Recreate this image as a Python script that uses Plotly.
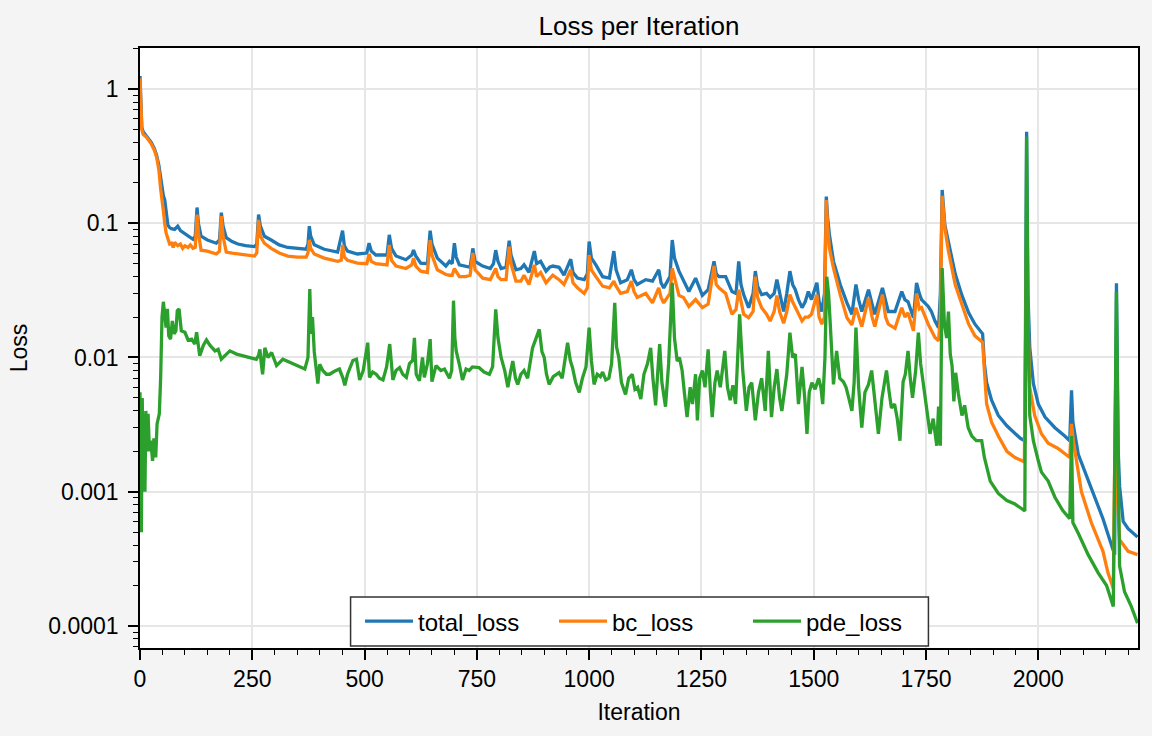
import plotly.graph_objects as go

# ---------------- data ----------------
total_loss_pts = [
    (0, 1.25), (2, 0.80), (4, 0.52), (7, 0.48), (14, 0.45), (25, 0.40), (32, 0.36), (37, 0.32),
    (42, 0.27), (46, 0.21), (49, 0.178), (52, 0.16), (55, 0.15), (58, 0.12), (62, 0.097), (66, 0.093),
    (70, 0.091), (77, 0.090), (84, 0.095), (90, 0.088), (100, 0.083), (107, 0.080), (118, 0.076),
    (123, 0.080), (127, 0.131), (130, 0.100), (136, 0.080), (150, 0.075), (170, 0.071), (177, 0.075),
    (181, 0.120), (185, 0.095), (192, 0.078), (205, 0.073), (218, 0.070), (235, 0.068), (255, 0.067),
    (260, 0.070), (264, 0.116), (268, 0.095), (277, 0.080), (292, 0.075), (310, 0.069), (329, 0.066),
    (350, 0.065), (370, 0.064), (374, 0.070), (377, 0.095), (380, 0.080), (388, 0.069), (410, 0.064),
    (440, 0.061), (451, 0.088), (455, 0.068), (462, 0.062), (484, 0.059), (505, 0.060), (510, 0.071),
    (515, 0.062), (525, 0.058), (550, 0.058), (555, 0.082), (560, 0.065), (570, 0.057), (592, 0.0535),
    (605, 0.058), (609, 0.063), (614, 0.057), (625, 0.0505), (640, 0.050), (646, 0.088), (650, 0.070),
    (662, 0.055), (681, 0.048), (689, 0.052), (695, 0.050), (700, 0.071), (704, 0.056), (711, 0.049),
    (725, 0.048), (735, 0.047), (741, 0.065), (746, 0.052), (763, 0.048), (780, 0.046), (787, 0.050),
    (792, 0.063), (797, 0.052), (804, 0.046), (815, 0.047), (822, 0.074), (826, 0.058), (837, 0.045),
    (848, 0.046), (855, 0.049), (866, 0.043), (878, 0.062), (883, 0.050), (892, 0.052), (904, 0.044),
    (912, 0.047), (919, 0.048), (933, 0.047), (944, 0.041), (959, 0.054), (964, 0.043), (974, 0.039),
    (989, 0.038), (996, 0.042), (1000, 0.073), (1005, 0.055), (1015, 0.049), (1030, 0.040), (1045, 0.039),
    (1055, 0.062), (1060, 0.045), (1070, 0.036), (1085, 0.038), (1094, 0.045), (1100, 0.038),
    (1107, 0.035), (1126, 0.038), (1141, 0.037), (1155, 0.045), (1160, 0.036), (1166, 0.033),
    (1180, 0.040), (1185, 0.075), (1190, 0.055), (1200, 0.044), (1210, 0.038), (1222, 0.031),
    (1237, 0.039), (1245, 0.033), (1252, 0.029), (1265, 0.032), (1278, 0.052), (1283, 0.042),
    (1289, 0.040), (1304, 0.040), (1318, 0.031), (1327, 0.030), (1333, 0.052), (1338, 0.035),
    (1344, 0.0294), (1355, 0.0235), (1365, 0.030), (1370, 0.044), (1375, 0.034), (1384, 0.0294),
    (1395, 0.030), (1403, 0.028), (1412, 0.030), (1418, 0.038), (1424, 0.030), (1433, 0.022),
    (1440, 0.030), (1447, 0.044), (1453, 0.035), (1459, 0.032), (1466, 0.027), (1474, 0.0235),
    (1481, 0.026), (1488, 0.031), (1495, 0.027), (1507, 0.036), (1512, 0.026), (1518, 0.022),
    (1524, 0.030), (1528, 0.158), (1531, 0.110), (1535, 0.082), (1544, 0.052), (1559, 0.035),
    (1574, 0.0255), (1585, 0.021), (1594, 0.035), (1600, 0.027), (1607, 0.022), (1622, 0.032),
    (1630, 0.025), (1636, 0.021), (1653, 0.033), (1660, 0.026), (1666, 0.022), (1681, 0.022),
    (1696, 0.031), (1703, 0.027), (1710, 0.026), (1722, 0.0198), (1729, 0.036), (1735, 0.030),
    (1740, 0.027), (1755, 0.024), (1762, 0.022), (1770, 0.0187), (1778, 0.0167), (1782, 0.030),
    (1786, 0.177), (1792, 0.097), (1800, 0.073), (1815, 0.042), (1830, 0.029), (1845, 0.0215),
    (1859, 0.0177), (1872, 0.0155), (1876, 0.015), (1880, 0.009), (1885, 0.0065), (1896, 0.0048),
    (1911, 0.0037), (1930, 0.0031), (1948, 0.0027), (1960, 0.0025), (1970, 0.0024), (1974, 0.48),
    (1977, 0.030), (1981, 0.0119), (1989, 0.0064), (2000, 0.0045), (2015, 0.0036), (2037, 0.0030),
    (2059, 0.0026), (2070, 0.0024), (2074, 0.0057), (2077, 0.0033), (2089, 0.0019), (2104, 0.0014),
    (2126, 0.00091), (2144, 0.00063), (2159, 0.00044), (2170, 0.00034), (2174, 0.0357), (2178, 0.0020),
    (2181, 0.0011), (2189, 0.00060), (2200, 0.00053), (2221, 0.00046),
]

bc_loss_pts = [
    (0, 1.20), (2, 0.78), (4, 0.50), (7, 0.46), (14, 0.44), (25, 0.39), (32, 0.35), (37, 0.31),
    (42, 0.25), (46, 0.18), (49, 0.14), (52, 0.124), (55, 0.10), (58, 0.085), (62, 0.077), (66, 0.070),
    (70, 0.071), (74, 0.066), (77, 0.072), (84, 0.068), (90, 0.070), (95, 0.065), (100, 0.068),
    (107, 0.066), (112, 0.069), (118, 0.065), (123, 0.066), (127, 0.116), (130, 0.085), (136, 0.063),
    (150, 0.062), (170, 0.059), (177, 0.062), (181, 0.113), (185, 0.080), (192, 0.061), (205, 0.060),
    (218, 0.059), (235, 0.058), (255, 0.057), (260, 0.060), (264, 0.106), (268, 0.080), (277, 0.071),
    (292, 0.065), (310, 0.060), (329, 0.057), (350, 0.056), (370, 0.056), (374, 0.060), (377, 0.075),
    (380, 0.065), (388, 0.059), (410, 0.055), (440, 0.052), (448, 0.053), (451, 0.069), (455, 0.056),
    (462, 0.053), (484, 0.0505), (505, 0.050), (510, 0.059), (515, 0.052), (525, 0.050), (550, 0.049),
    (555, 0.069), (560, 0.053), (570, 0.048), (592, 0.046), (605, 0.049), (609, 0.055), (614, 0.048),
    (625, 0.044), (640, 0.043), (646, 0.075), (650, 0.058), (662, 0.045), (681, 0.0415), (689, 0.041),
    (695, 0.041), (700, 0.046), (711, 0.040), (725, 0.040), (735, 0.041), (741, 0.060), (746, 0.045),
    (763, 0.039), (780, 0.038), (792, 0.046), (797, 0.040), (804, 0.038), (815, 0.038), (822, 0.067),
    (826, 0.050), (837, 0.037), (848, 0.037), (855, 0.041), (866, 0.035), (878, 0.049), (883, 0.040),
    (892, 0.043), (904, 0.036), (919, 0.041), (933, 0.038), (944, 0.035), (959, 0.045), (964, 0.036),
    (974, 0.033), (989, 0.030), (996, 0.033), (1000, 0.058), (1005, 0.045), (1015, 0.040), (1030, 0.034),
    (1045, 0.033), (1055, 0.037), (1060, 0.034), (1070, 0.030), (1085, 0.031), (1094, 0.037),
    (1100, 0.031), (1107, 0.028), (1126, 0.030), (1141, 0.0255), (1155, 0.033), (1160, 0.028),
    (1166, 0.0255), (1180, 0.030), (1185, 0.046), (1190, 0.040), (1200, 0.029), (1210, 0.028),
    (1222, 0.024), (1237, 0.027), (1245, 0.025), (1252, 0.0235), (1265, 0.025), (1278, 0.048),
    (1283, 0.035), (1289, 0.033), (1304, 0.030), (1318, 0.021), (1327, 0.0228), (1333, 0.032),
    (1344, 0.021), (1355, 0.0198), (1365, 0.022), (1370, 0.040), (1375, 0.028), (1384, 0.0235),
    (1395, 0.021), (1403, 0.0187), (1412, 0.022), (1418, 0.029), (1424, 0.022), (1433, 0.018),
    (1440, 0.022), (1447, 0.0294), (1453, 0.026), (1459, 0.0235), (1466, 0.021), (1474, 0.0187),
    (1481, 0.020), (1488, 0.020), (1495, 0.021), (1507, 0.0294), (1512, 0.020), (1518, 0.0177),
    (1524, 0.020), (1528, 0.149), (1531, 0.095), (1535, 0.065), (1544, 0.0464), (1559, 0.0294),
    (1574, 0.0198), (1585, 0.0175), (1594, 0.0235), (1600, 0.020), (1607, 0.017), (1622, 0.0278),
    (1630, 0.020), (1636, 0.017), (1653, 0.0294), (1660, 0.020), (1666, 0.0177), (1681, 0.0165),
    (1696, 0.0235), (1703, 0.020), (1710, 0.0215), (1722, 0.0158), (1729, 0.030), (1735, 0.023),
    (1740, 0.0235), (1755, 0.0177), (1762, 0.016), (1770, 0.0141), (1778, 0.0133), (1782, 0.020),
    (1786, 0.160), (1792, 0.092), (1800, 0.062), (1815, 0.035), (1830, 0.0248), (1845, 0.0177),
    (1859, 0.0145), (1872, 0.0134), (1876, 0.013), (1880, 0.008), (1885, 0.0045), (1896, 0.0033),
    (1911, 0.0026), (1930, 0.0020), (1948, 0.0018), (1969, 0.00167), (1974, 0.070), (1977, 0.020),
    (1981, 0.006), (1992, 0.0037), (2007, 0.0027), (2022, 0.0023), (2044, 0.0021), (2070, 0.0018),
    (2074, 0.0032), (2078, 0.0024), (2096, 0.0010), (2118, 0.00059), (2144, 0.00036), (2155, 0.00025),
    (2167, 0.00019), (2172, 0.0057), (2176, 0.00095), (2181, 0.00044), (2200, 0.00036), (2221, 0.00034),
]

pde_loss_pts = [
    (0, 0.0055), (2, 0.0008), (3, 0.0005), (5, 0.0050), (7, 0.0012), (9, 0.0038), (11, 0.0010),
    (13, 0.0040), (15, 0.0020), (18, 0.0038), (21, 0.0020), (24, 0.0024), (28, 0.0017), (31, 0.0025),
    (35, 0.0018), (38, 0.0032), (43, 0.0038), (46, 0.0071), (49, 0.020), (52, 0.026), (55, 0.019),
    (58, 0.0167), (61, 0.023), (64, 0.0145), (68, 0.0137), (72, 0.0187), (76, 0.0150), (80, 0.0158),
    (83, 0.0223), (87, 0.023), (92, 0.0158), (100, 0.0154), (107, 0.0135), (115, 0.0137), (122, 0.0126),
    (126, 0.0154), (133, 0.0103), (141, 0.0123), (148, 0.0135), (156, 0.0123), (167, 0.0112),
    (174, 0.0115), (181, 0.0097), (189, 0.0103), (200, 0.0112), (215, 0.0106), (230, 0.0103),
    (244, 0.0100), (259, 0.0097), (264, 0.0104), (267, 0.0115), (270, 0.0090), (273, 0.0075),
    (278, 0.0118), (285, 0.0100), (293, 0.0109), (304, 0.0087), (318, 0.0097), (333, 0.0092),
    (348, 0.0087), (367, 0.0082), (374, 0.0100), (378, 0.0324), (381, 0.0150), (384, 0.020),
    (388, 0.0110), (392, 0.0085), (396, 0.0064), (400, 0.0089), (407, 0.0080), (415, 0.0075),
    (422, 0.0075), (433, 0.0079), (444, 0.0082), (452, 0.0070), (456, 0.0062), (462, 0.0075),
    (467, 0.0082), (474, 0.0095), (482, 0.0097), (489, 0.0068), (497, 0.0080), (507, 0.0129),
    (511, 0.0071), (518, 0.0078), (526, 0.0075), (533, 0.0070), (541, 0.0068), (549, 0.0085),
    (556, 0.0126), (563, 0.0068), (570, 0.0080), (578, 0.0084), (585, 0.0075), (593, 0.0071),
    (600, 0.0090), (607, 0.0095), (611, 0.0140), (615, 0.0075), (622, 0.0067), (629, 0.0100),
    (633, 0.0071), (640, 0.0090), (646, 0.0137), (650, 0.0066), (659, 0.0087), (670, 0.0080),
    (678, 0.0082), (689, 0.0070), (694, 0.0080), (698, 0.0265), (701, 0.0140), (704, 0.0112),
    (711, 0.0089), (718, 0.0068), (726, 0.0082), (733, 0.0080), (740, 0.0085), (755, 0.0084),
    (766, 0.0078), (778, 0.0075), (785, 0.0085), (792, 0.0228), (797, 0.0140), (804, 0.0100),
    (812, 0.0080), (819, 0.0060), (825, 0.0078), (830, 0.0094), (836, 0.0070), (841, 0.0063),
    (848, 0.0075), (855, 0.0080), (863, 0.0070), (870, 0.0100), (874, 0.0118), (889, 0.0162),
    (895, 0.0110), (900, 0.0100), (905, 0.0075), (911, 0.0063), (920, 0.0072), (933, 0.0077),
    (940, 0.0070), (946, 0.0095), (952, 0.0129), (958, 0.0095), (963, 0.0084), (970, 0.0065),
    (978, 0.0055), (985, 0.0070), (993, 0.0085), (1000, 0.0167), (1005, 0.0095), (1011, 0.0063),
    (1018, 0.0075), (1025, 0.0072), (1030, 0.0078), (1037, 0.0068), (1044, 0.0070), (1050, 0.0090),
    (1057, 0.0255), (1061, 0.0120), (1066, 0.0100), (1072, 0.0065), (1081, 0.0053), (1088, 0.0070),
    (1096, 0.0075), (1102, 0.0058), (1108, 0.0060), (1115, 0.0049), (1122, 0.0075), (1130, 0.0090),
    (1137, 0.0118), (1142, 0.0070), (1148, 0.0044), (1153, 0.0080), (1157, 0.0126), (1162, 0.0065),
    (1170, 0.0043), (1177, 0.0090), (1185, 0.036), (1190, 0.0140), (1196, 0.0094), (1201, 0.0100),
    (1207, 0.0080), (1212, 0.0055), (1218, 0.0036), (1225, 0.0060), (1230, 0.0045), (1237, 0.0075),
    (1241, 0.0034), (1246, 0.0070), (1252, 0.0080), (1258, 0.0060), (1265, 0.0115), (1270, 0.0055),
    (1274, 0.0036), (1280, 0.0065), (1285, 0.0080), (1292, 0.0060), (1302, 0.0112), (1308, 0.0060),
    (1314, 0.0048), (1320, 0.0062), (1326, 0.0045), (1335, 0.021), (1342, 0.0080), (1350, 0.0040),
    (1356, 0.0060), (1362, 0.0065), (1370, 0.0034), (1377, 0.0055), (1384, 0.0070), (1392, 0.0040),
    (1399, 0.0112), (1406, 0.0036), (1412, 0.0060), (1418, 0.0082), (1424, 0.0050), (1429, 0.0040),
    (1436, 0.0060), (1440, 0.0075), (1447, 0.0153), (1453, 0.0100), (1459, 0.0106), (1466, 0.0045),
    (1474, 0.0085), (1480, 0.0050), (1485, 0.0027), (1490, 0.0055), (1496, 0.0065), (1503, 0.0058),
    (1511, 0.0070), (1516, 0.0060), (1520, 0.0045), (1525, 0.0100), (1529, 0.040), (1533, 0.030),
    (1536, 0.020), (1540, 0.0110), (1544, 0.0063), (1551, 0.0112), (1558, 0.0070), (1566, 0.0066),
    (1572, 0.0060), (1578, 0.0050), (1585, 0.0040), (1590, 0.0065), (1594, 0.0167), (1600, 0.0060),
    (1607, 0.0030), (1614, 0.0055), (1622, 0.0063), (1629, 0.0080), (1636, 0.0050), (1644, 0.0027),
    (1652, 0.0050), (1662, 0.0080), (1668, 0.0055), (1673, 0.0042), (1680, 0.0045), (1686, 0.0035),
    (1692, 0.0024), (1699, 0.0066), (1704, 0.0075), (1710, 0.0112), (1715, 0.0070), (1720, 0.0050),
    (1727, 0.0080), (1733, 0.0153), (1738, 0.0090), (1744, 0.0063), (1750, 0.0045), (1759, 0.0027),
    (1766, 0.0035), (1774, 0.0022), (1778, 0.0043), (1782, 0.0022), (1786, 0.0464), (1791, 0.0176),
    (1796, 0.0140), (1800, 0.022), (1804, 0.0106), (1808, 0.0087), (1812, 0.0047), (1816, 0.0077),
    (1822, 0.0054), (1830, 0.0037), (1836, 0.0044), (1844, 0.0030), (1852, 0.0026), (1862, 0.0024),
    (1874, 0.0024), (1880, 0.0018), (1893, 0.0012), (1911, 0.00097), (1930, 0.00086), (1948, 0.00081),
    (1960, 0.00076), (1970, 0.00072), (1974, 0.44), (1977, 0.020), (1981, 0.0037), (1989, 0.0024),
    (2000, 0.0017), (2007, 0.0014), (2022, 0.0012), (2037, 0.00091), (2055, 0.00072), (2070, 0.00063),
    (2074, 0.0026), (2077, 0.00059), (2089, 0.00049), (2111, 0.00034), (2133, 0.00025), (2152, 0.00020),
    (2167, 0.00014), (2174, 0.0307), (2178, 0.0015), (2181, 0.00028), (2192, 0.00018), (2207, 0.00014),
    (2221, 0.000105),
]

series_names = ["total_loss", "bc_loss", "pde_loss"]
series_points = [total_loss_pts, bc_loss_pts, pde_loss_pts]
series_colors = ["#1f77b4", "#ff7f0e", "#2ca02c"]

x_tick_vals = [0, 250, 500, 750, 1000, 1250, 1500, 1750, 2000]
y_tick_vals = [1e-4, 1e-3, 1e-2, 1e-1, 1]
y_tick_text = ["0.0001", "0.001", "0.01", "0.1", "1"]
y_minor_vals = [m * d for d in [1e-5, 1e-4, 1e-3, 1e-2, 1e-1, 1] for m in range(2, 10)]

# ---------------- figure ----------------
FONT = "Liberation Sans"
fig = go.Figure()
for name, pts, color in zip(series_names, series_points, series_colors):
    fig.add_trace(go.Scatter(
        x=[p[0] for p in pts], y=[p[1] for p in pts], name=name, mode="lines",
        line=dict(color=color, width=3.3),
    ))

axis_common = dict(
    showline=True, linecolor="black", linewidth=1.5, mirror=True,
    ticks="outside", ticklen=10, tickwidth=1.5, tickcolor="black",
    showgrid=True, gridcolor="#e6e6e6", gridwidth=1.5, zeroline=False,
    tickfont=dict(family=FONT, size=23, color="black"),
)

# legend frame (drawn as a paper-space box, like matplotlib's legend patch)
fig.add_shape(type="rect", xref="paper", yref="paper",
              x0=0.211, x1=0.790, y0=0.0035, y1=0.085,
              line=dict(color="#333333", width=1.5), fillcolor="white", layer="above")

fig.update_layout(
    width=1152, height=736,
    paper_bgcolor="#f4f4f4", plot_bgcolor="white",
    margin=dict(l=140, r=12, t=48, b=88),
    font=dict(family=FONT, size=23, color="black"),
    title=dict(text="Loss per Iteration", x=0.5, xanchor="center", xref="paper",
               y=1 - 26 / 736, yref="container", yanchor="middle",
               font=dict(family=FONT, size=26, color="black")),
    xaxis=dict(
        range=[0, 2222], tickmode="array", tickvals=x_tick_vals,
        minor=dict(dtick=50, ticks="outside", ticklen=5, tickwidth=1.2, tickcolor="black", showgrid=False),
        title=dict(text="Iteration", font=dict(family=FONT, size=23), standoff=13),
        **axis_common,
    ),
    yaxis=dict(
        type="log", range=[-4.164, 0.3054], tickmode="array",
        tickvals=y_tick_vals, ticktext=y_tick_text,
        minor=dict(tickmode="array", tickvals=y_minor_vals, ticks="outside", ticklen=5,
                   tickwidth=1.2, tickcolor="black", showgrid=False),
        title=dict(text="Loss", font=dict(family=FONT, size=23), standoff=14),
        ticklabelstandoff=5,
        **axis_common,
    ),
    legend=dict(
        orientation="h", x=0.512, xanchor="center", y=0.044, yanchor="middle",
        bgcolor="rgba(0,0,0,0)", borderwidth=0,
        font=dict(family=FONT, size=24, color="black"),
        entrywidth=131, entrywidthmode="pixels", itemwidth=48,
    ),
    showlegend=True,
)

fig.write_html("out.html", config={"displayModeBar": False},
               post_script="document.body.style.margin='0';")
